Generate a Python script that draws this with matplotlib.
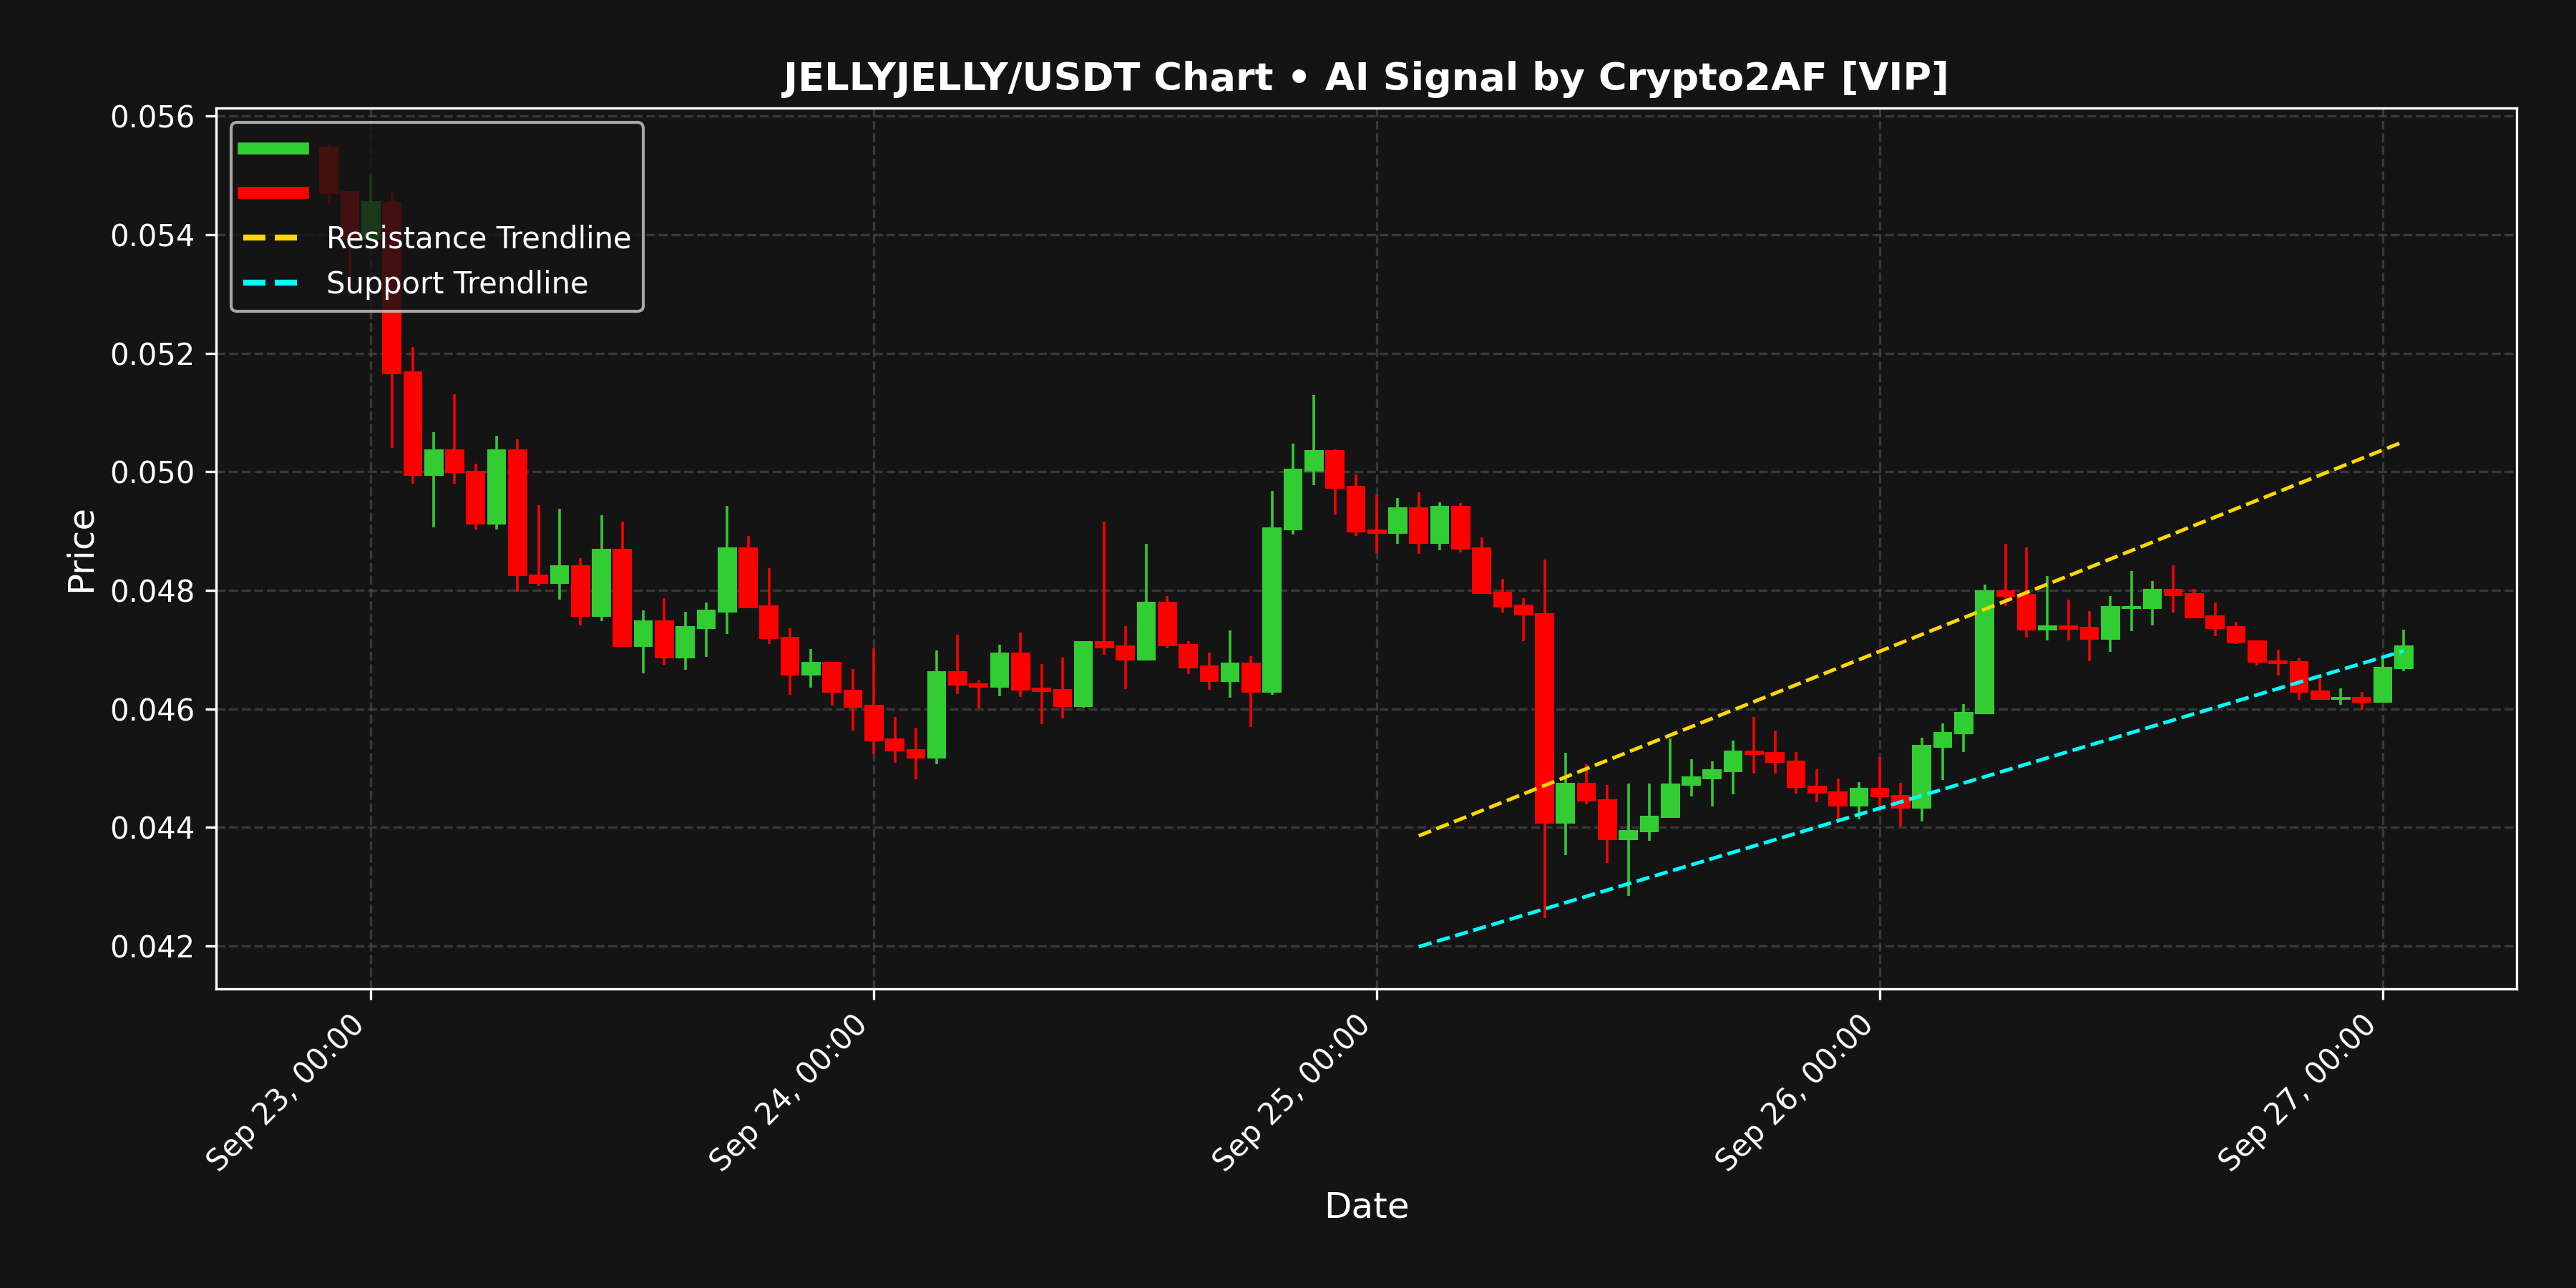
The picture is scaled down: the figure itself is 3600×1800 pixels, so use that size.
import numpy as np
import pandas as pd
import matplotlib
matplotlib.use("Agg")
import matplotlib.pyplot as plt
import matplotlib.dates as mdates
from matplotlib.lines import Line2D

# ---------------- data ----------------
start_time = "2025-09-22 22:00"
n_candles = 100

opens = [0.05549, 0.05474, 0.05391, 0.05456, 0.05169, 0.04993, 0.05038, 0.05002, 0.04911, 0.05038,
         0.04827, 0.04811, 0.04842, 0.04756, 0.04870, 0.04705, 0.04749, 0.04686, 0.04735, 0.04763,
         0.04873, 0.04775, 0.04722, 0.04656, 0.04680, 0.04632, 0.04607, 0.04550, 0.04532, 0.04516,
         0.04664, 0.04643, 0.04636, 0.04695, 0.04636, 0.04633, 0.04603, 0.04714, 0.04707, 0.04682,
         0.04781, 0.04710, 0.04673, 0.04646, 0.04678, 0.04627, 0.04901, 0.05000, 0.05037, 0.04976,
         0.04903, 0.04895, 0.04940, 0.04879, 0.04942, 0.04873, 0.04798, 0.04776, 0.04762, 0.04407,
         0.04475, 0.04448, 0.04379, 0.04392, 0.04416, 0.04470, 0.04482, 0.04494, 0.04530, 0.04527,
         0.04513, 0.04471, 0.04461, 0.04435, 0.04467, 0.04455, 0.04432, 0.04534, 0.04557, 0.04591,
         0.04800, 0.04794, 0.04733, 0.04741, 0.04739, 0.04717, 0.04769, 0.04769, 0.04802, 0.04795,
         0.04758, 0.04740, 0.04716, 0.04682, 0.04681, 0.04631, 0.04615, 0.04620, 0.04610, 0.04667]
highs = [0.05552, 0.05474, 0.05501, 0.05474, 0.05211, 0.05067, 0.05131, 0.05014, 0.05061, 0.05055,
         0.04944, 0.04938, 0.04855, 0.04927, 0.04916, 0.04766, 0.04787, 0.04764, 0.04779, 0.04942,
         0.04892, 0.04837, 0.04736, 0.04701, 0.04680, 0.04667, 0.04702, 0.04586, 0.04568, 0.04699,
         0.04725, 0.04648, 0.04708, 0.04729, 0.04676, 0.04687, 0.04714, 0.04916, 0.04740, 0.04878,
         0.04790, 0.04715, 0.04695, 0.04732, 0.04689, 0.04968, 0.05047, 0.05130, 0.05038, 0.04996,
         0.04961, 0.04956, 0.04966, 0.04948, 0.04947, 0.04890, 0.04820, 0.04787, 0.04852, 0.04526,
         0.04507, 0.04472, 0.04474, 0.04474, 0.04550, 0.04515, 0.04512, 0.04547, 0.04587, 0.04563,
         0.04527, 0.04498, 0.04483, 0.04477, 0.04519, 0.04475, 0.04551, 0.04576, 0.04608, 0.04810,
         0.04878, 0.04872, 0.04824, 0.04784, 0.04765, 0.04790, 0.04833, 0.04816, 0.04842, 0.04803,
         0.04779, 0.04747, 0.04716, 0.04700, 0.04686, 0.04653, 0.04635, 0.04629, 0.04687, 0.04734]
lows = [0.05452, 0.05296, 0.05391, 0.05040, 0.04980, 0.04906, 0.04980, 0.04903, 0.04903, 0.04798,
        0.04807, 0.04784, 0.04741, 0.04748, 0.04705, 0.04660, 0.04675, 0.04666, 0.04688, 0.04727,
        0.04770, 0.04709, 0.04624, 0.04636, 0.04606, 0.04563, 0.04524, 0.04509, 0.04482, 0.04507,
        0.04625, 0.04601, 0.04622, 0.04620, 0.04574, 0.04584, 0.04602, 0.04691, 0.04634, 0.04682,
        0.04702, 0.04659, 0.04632, 0.04619, 0.04570, 0.04624, 0.04894, 0.04978, 0.04928, 0.04892,
        0.04863, 0.04879, 0.04862, 0.04868, 0.04864, 0.04794, 0.04763, 0.04715, 0.04247, 0.04354,
        0.04439, 0.04340, 0.04285, 0.04378, 0.04416, 0.04453, 0.04436, 0.04456, 0.04491, 0.04491,
        0.04457, 0.04443, 0.04414, 0.04414, 0.04427, 0.04402, 0.04410, 0.04480, 0.04527, 0.04591,
        0.04774, 0.04720, 0.04716, 0.04716, 0.04681, 0.04696, 0.04731, 0.04741, 0.04763, 0.04753,
        0.04723, 0.04710, 0.04673, 0.04657, 0.04616, 0.04615, 0.04607, 0.04598, 0.04610, 0.04664]
closes = [0.05469, 0.05391, 0.05457, 0.05165, 0.04993, 0.05038, 0.04998, 0.04911, 0.05038, 0.04824,
          0.04811, 0.04842, 0.04756, 0.04870, 0.04705, 0.04749, 0.04686, 0.04740, 0.04767, 0.04873,
          0.04770, 0.04718, 0.04656, 0.04680, 0.04628, 0.04602, 0.04546, 0.04528, 0.04516, 0.04664,
          0.04639, 0.04636, 0.04695, 0.04631, 0.04629, 0.04603, 0.04714, 0.04702, 0.04682, 0.04781,
          0.04706, 0.04669, 0.04646, 0.04678, 0.04627, 0.04906, 0.05005, 0.05037, 0.04971, 0.04898,
          0.04895, 0.04940, 0.04879, 0.04942, 0.04869, 0.04794, 0.04771, 0.04758, 0.04407, 0.04475,
          0.04444, 0.04379, 0.04396, 0.04420, 0.04474, 0.04486, 0.04498, 0.04530, 0.04522, 0.04509,
          0.04467, 0.04457, 0.04435, 0.04467, 0.04451, 0.04432, 0.04539, 0.04561, 0.04595, 0.04800,
          0.04789, 0.04733, 0.04741, 0.04734, 0.04717, 0.04773, 0.04773, 0.04802, 0.04791, 0.04753,
          0.04735, 0.04711, 0.04678, 0.04676, 0.04627, 0.04615, 0.04620, 0.04610, 0.04671, 0.04707]

resistance_times = ["2025-09-25 02:00", "2025-09-27 01:00"]
resistance_values = [0.04386, 0.05051]
support_times = ["2025-09-25 02:00", "2025-09-27 01:00"]
support_values = [0.04199, 0.04698]

title_text = "JELLYJELLY/USDT Chart \u2022 AI Signal by Crypto2AF [VIP]"

# ---------------- style ----------------
BG = "#141414"
UP = "#32CD32"
DOWN = "#FF0000"

plt.rcParams["font.family"] = ["DejaVu Sans"]

fig = plt.figure(figsize=(12, 6), dpi=300, facecolor=BG)
ax = fig.add_axes([0.0839, 0.2324, 0.977 - 0.0839, 0.9163 - 0.2324])
ax.set_facecolor(BG)

times = pd.date_range(start_time, periods=n_candles, freq="h")
x = mdates.date2num(times.to_pydatetime())
o = np.array(opens); h = np.array(highs); l = np.array(lows); c = np.array(closes)
up = c >= o
colors = np.where(up, UP, DOWN)

body_w = 0.91 / 24.0
ax.vlines(x, l, h, colors=colors, linewidth=0.85, zorder=2)
ax.bar(x, np.abs(c - o), bottom=np.minimum(o, c), width=body_w,
       color=colors, linewidth=0, zorder=3)

rx = mdates.date2num(pd.to_datetime(resistance_times).to_pydatetime())
sx = mdates.date2num(pd.to_datetime(support_times).to_pydatetime())
ax.plot(rx, resistance_values, color="#FFD700", linestyle="--", linewidth=1.2, zorder=4)
ax.plot(sx, support_values, color="#00FFFF", linestyle="--", linewidth=1.2, zorder=4)

# axes limits
t0 = mdates.date2num(pd.Timestamp("2025-09-23 00:00").to_pydatetime())
ax.set_xlim(t0 - 7.385 / 24, t0 + 102.39 / 24)
ax.set_ylim(0.041282, 0.05614)

ax.xaxis.set_major_locator(mdates.DayLocator())
ax.xaxis.set_major_formatter(mdates.DateFormatter("%b %d, %H:%M"))
for lab in ax.get_xticklabels():
    lab.set_rotation(45)
    lab.set_ha("right")

ax.tick_params(colors="white", labelsize=10, length=3.5, width=0.8)
for sp in ax.spines.values():
    sp.set_color("white")
    sp.set_linewidth(0.8)

ax.grid(True, color="#484848", linestyle="--", linewidth=0.8, alpha=0.7)
ax.set_axisbelow(True)

ax.set_title(title_text, color="white", fontsize=13, fontweight="bold")
ax.set_xlabel("Date", color="white", fontsize=12)
ax.set_ylabel("Price", color="white", fontsize=12)

handles = [
    Line2D([], [], color=UP, linewidth=4),
    Line2D([], [], color=DOWN, linewidth=4),
    Line2D([], [], color="#FFD700", linestyle="--", linewidth=2),
    Line2D([], [], color="#00FFFF", linestyle="--", linewidth=2),
]
labels = ["", "", "Resistance Trendline", "Support Trendline"]
leg = ax.legend(handles, labels, loc="upper left", fontsize=10,
                facecolor=BG, edgecolor="#cccccc", framealpha=0.8, labelcolor="white")
leg.get_frame().set_linewidth(1.0)
leg.set_zorder(10)

fig.savefig("out.png", dpi=300, facecolor=BG)
